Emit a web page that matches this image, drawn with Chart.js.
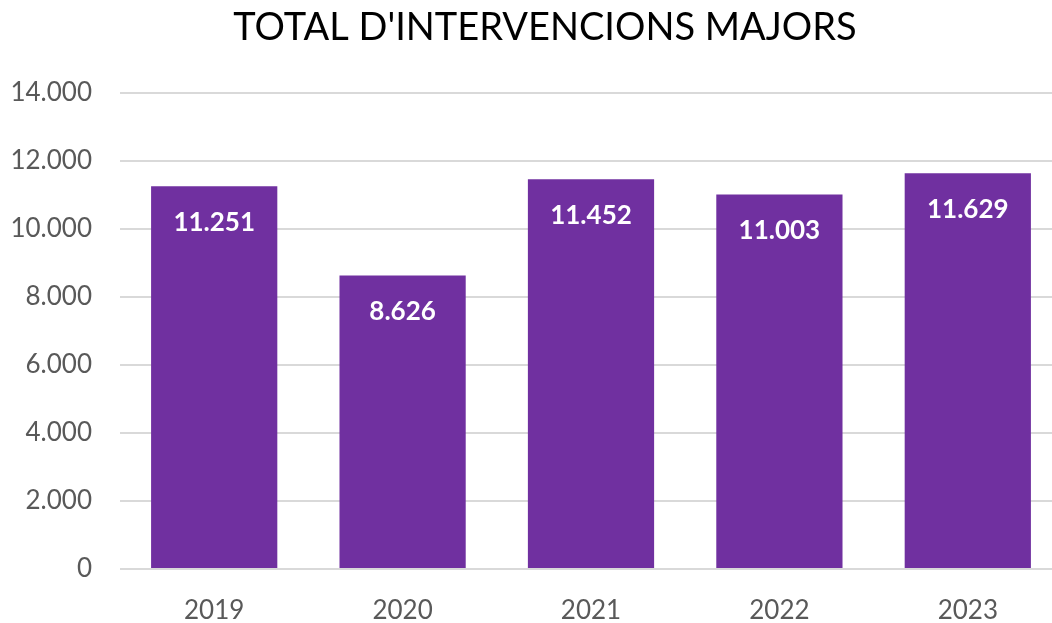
<!DOCTYPE html>
<html>
<head>
<meta charset="utf-8">
<script src="https://cdn.jsdelivr.net/npm/chart.js@4"></script>
<style>
  html, body { margin: 0; padding: 0; background: #fff; overflow: hidden; }
  #wrap { width: 1062px; height: 623px; }
</style>
</head>
<body>
<div id="wrap"><canvas id="chart" width="1062" height="623"></canvas></div>
<script>
// data
const years = ['2019', '2020', '2021', '2022', '2023'];
const interventions = [11251, 8626, 11452, 11003, 11629];
const chartTitle = "TOTAL D'INTERVENCIONS MAJORS";

// catalan style thousands separator
function fmt(v) {
  return String(v).replace(/\B(?=(\d{3})+(?!\d))/g, '.');
}

// white value labels inside top of each bar
const barLabels = {
  id: 'barLabels',
  afterLayout(chart) {
    // let the y tick labels use the left padding instead of being clipped
    chart.scales.y.left = 0;
  },
  afterDatasetsDraw(chart) {
    const ctx = chart.ctx;
    const meta = chart.getDatasetMeta(0);
    ctx.save();
    ctx.fillStyle = '#ffffff';
    ctx.font = 'bold 26px Lato';
    ctx.textAlign = 'center';
    ctx.textBaseline = 'middle';
    meta.data.forEach((bar, i) => {
      ctx.fillText(fmt(interventions[i]), bar.x, bar.y + 36);
    });
    ctx.restore();
  }
};

new Chart(document.getElementById('chart'), {
  type: 'bar',
  data: {
    labels: years,
    datasets: [{
      data: interventions,
      backgroundColor: '#7030A0',
      barPercentage: 0.67,
      categoryPercentage: 1
    }]
  },
  options: {
    responsive: false,
    animation: false,
    layout: { padding: { left: 28, right: 0, top: 0, bottom: 0 } },
    plugins: {
      legend: { display: false },
      tooltip: { enabled: false },
      title: {
        display: true,
        text: chartTitle,
        color: '#000000',
        font: { family: 'Lato', size: 38, weight: 'normal' },
        padding: { top: 5, bottom: 42 }
      }
    },
    scales: {
      x: {
        afterFit: (s) => { s.height = 54; },
        grid: { display: false },
        border: { display: false },
        ticks: {
          color: '#595959',
          font: { family: 'Lato', size: 26 },
          padding: 18
        }
      },
      y: {
        min: 0,
        max: 14000,
        afterFit: (s) => { s.width = 92; },
        grid: { color: '#d9d9d9', lineWidth: 2, drawTicks: false },
        border: { display: false },
        ticks: {
          stepSize: 2000,
          color: '#595959',
          font: { family: 'Lato', size: 26 },
          padding: 28,
          callback: (v) => fmt(v)
        }
      }
    }
  },
  plugins: [barLabels]
});
</script>
</body>
</html>
